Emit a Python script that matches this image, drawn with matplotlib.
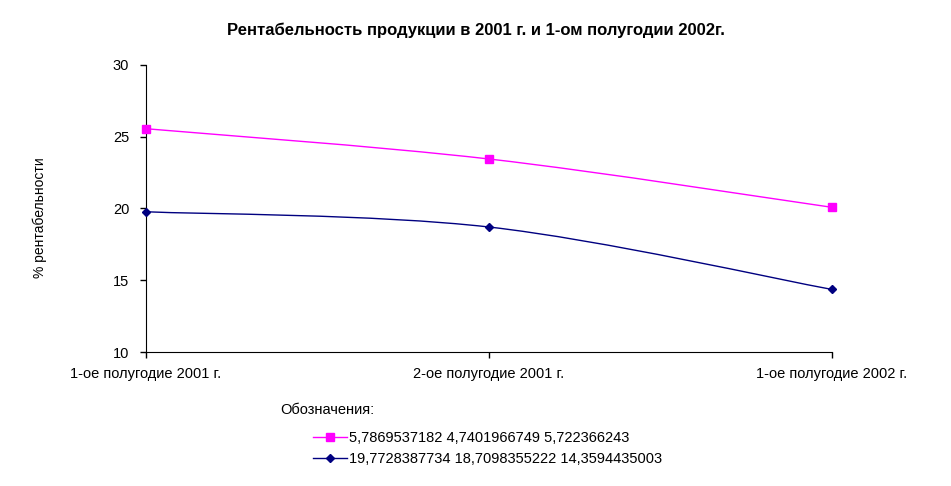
import matplotlib.pyplot as plt
from matplotlib.path import Path
from matplotlib.patches import PathPatch
from matplotlib.lines import Line2D

plt.rcParams['font.family'] = ['Liberation Sans', 'DejaVu Sans']

periods = ['1-ое полугодие 2001 г.', '2-ое полугодие 2001 г.', '1-ое полугодие 2002 г.']
lower = [19.7728387734, 18.7098355222, 14.3594435003]
upper_add = [5.7869537182, 4.7401966749, 5.722366243]
upper = [a + b for a, b in zip(lower, upper_add)]
yticks = [10, 15, 20, 25, 30]


def smooth_path(xs, ys):
    # Excel-style smoothed line: cubic Bezier through every point
    pts = list(zip(xs, ys))
    verts = [pts[0]]
    codes = [Path.MOVETO]
    n = len(pts)
    for i in range(n - 1):
        p0 = pts[max(i - 1, 0)]
        p1 = pts[i]
        p2 = pts[i + 1]
        p3 = pts[min(i + 2, n - 1)]
        c1 = (p1[0] + (p2[0] - p0[0]) / 6, p1[1] + (p2[1] - p0[1]) / 6)
        c2 = (p2[0] - (p3[0] - p1[0]) / 6, p2[1] - (p3[1] - p1[1]) / 6)
        verts += [c1, c2, p2]
        codes += [Path.CURVE4] * 3
    return Path(verts, codes)


fig = plt.figure(figsize=(9.51, 4.86), dpi=100)
ax = fig.add_axes([146 / 951, 1 - 352 / 486, 686 / 951, 287 / 486])

x = list(range(len(periods)))
series = [
    (upper, '#FF00FF', 's', 6, upper_add),
    (lower, '#000080', 'D', 4.5, lower),
]
handles = []
for ys, color, marker, ms, vals in series:
    ax.add_patch(PathPatch(smooth_path(x, ys), facecolor='none', edgecolor=color,
                           lw=1.0, clip_on=False))
    ax.plot(x, ys, linestyle='none', marker=marker, color=color, ms=ms, clip_on=False, zorder=3)
    label = ' '.join(str(v).replace('.', ',') for v in vals)
    handles.append(Line2D([], [], color=color, lw=1.0, marker=marker, ms=ms, label=label))

ax.set_xlim(0, 2)
ax.set_ylim(10, 30)
ax.set_xticks(x)
ax.set_xticklabels(periods, fontsize=10.5)
ax.set_yticks(yticks)
ax.set_yticklabels([str(t) for t in yticks], fontsize=10.5)
ax.tick_params(direction='out', length=4, width=1)
ax.tick_params(axis='x', pad=7)
ax.tick_params(axis='y', pad=8)
for s in ['top', 'right']:
    ax.spines[s].set_visible(False)

fig.text(0.5, 1 - 30 / 486, 'Рентабельность продукции в 2001 г. и 1-ом полугодии 2002г.',
         ha='center', va='center', fontsize=12, fontweight='bold')
fig.text(40 / 951, 1 - 218 / 486, '% рентабельности', rotation=90,
         ha='center', va='center', fontsize=10)
fig.text(280 / 951, 1 - 410 / 486, 'Обозначения:', ha='left', va='center', fontsize=10.5)

fig.legend(handles=handles, loc='upper left', bbox_to_anchor=(313 / 951, 1 - 431 / 486),
           frameon=False, fontsize=10.5, borderpad=0, borderaxespad=0, handlelength=2.3,
           handletextpad=0.15, labelspacing=0.5)

fig.savefig('out.png', dpi=100)
